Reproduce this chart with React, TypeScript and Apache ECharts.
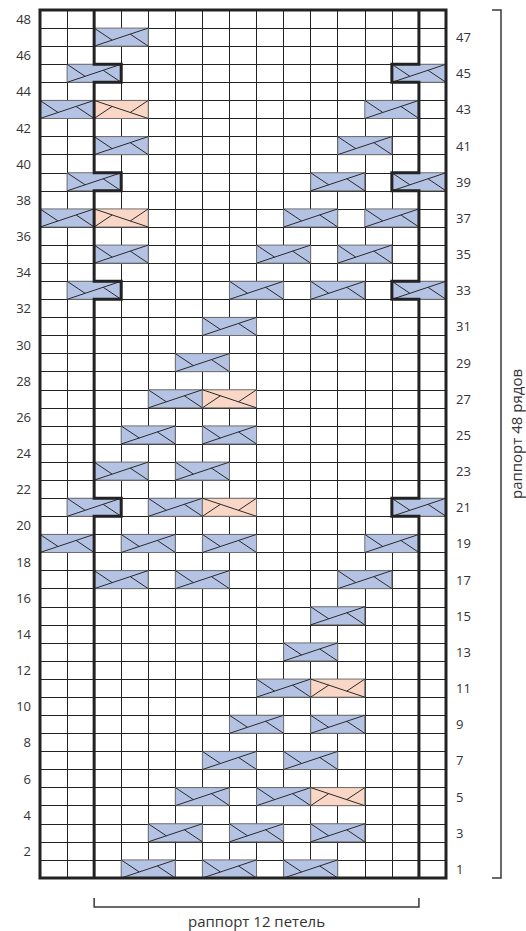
import { useEffect, useRef } from "react";
import * as echarts from "echarts";

// ---- chart data ----
const COLUMN_COUNT = 15; // stitches drawn across the chart
const ROW_COUNT = 48; // rows in the repeat
const REPEAT_FIRST_BOUNDARY = 2; // left thick line (column boundary index)
const REPEAT_LAST_BOUNDARY = 14; // right thick line (column boundary index)

const rowLabels = [
  "1", "2", "3", "4", "5", "6", "7", "8", "9", "10", "11", "12",
  "13", "14", "15", "16", "17", "18", "19", "20", "21", "22", "23", "24",
  "25", "26", "27", "28", "29", "30", "31", "32", "33", "34", "35", "36",
  "37", "38", "39", "40", "41", "42", "43", "44", "45", "46", "47", "48",
];

// [row, first column] of each 2-stitch blue cross (left over right)
const blueCables: [number, number][] = [
  [47, 2],
  [45, 1], [45, 13],
  [43, 0], [43, 12],
  [41, 2], [41, 11],
  [39, 1], [39, 10], [39, 13],
  [37, 0], [37, 9], [37, 12],
  [35, 2], [35, 8], [35, 11],
  [33, 1], [33, 7], [33, 10], [33, 13],
  [31, 6],
  [29, 5],
  [27, 4],
  [25, 3], [25, 6],
  [23, 2], [23, 5],
  [21, 1], [21, 4], [21, 13],
  [19, 0], [19, 3], [19, 6], [19, 12],
  [17, 2], [17, 5], [17, 11],
  [15, 10],
  [13, 9],
  [11, 8],
  [9, 7], [9, 10],
  [7, 6], [7, 9],
  [5, 5], [5, 8],
  [3, 4], [3, 7], [3, 10],
  [1, 3], [1, 6], [1, 9],
];

// [row, first column] of each 2-stitch peach cross (right over left)
const peachCables: [number, number][] = [
  [43, 2],
  [37, 2],
  [27, 6],
  [21, 6],
  [11, 10],
  [5, 10],
];

const rowsCaption = "раппорт 48 рядов";
const stitchesCaption = "раппорт 12 петель";

// ---- styles ----
const BLUE = "#b4c2e3";
const PEACH = "#f9d6c5";
const INK = "#222222";
const TEXT = "#333333";
const FONT = "'Open Sans', 'Noto Sans', sans-serif";

function renderCable(_params: any, api: any) {
  const col = api.value(0) as number;
  const row = api.value(1) as number;
  const kind = api.value(2) as number;
  const tl = api.coord([col, row]);
  const br = api.coord([col + 2, row - 1]);
  const x = tl[0];
  const y = tl[1];
  const w = br[0] - tl[0];
  const h = br[1] - tl[1];
  const segs =
    kind === 0
      ? [
          [x, y + h, x + w, y],
          [x, y, x + w / 3, y + (2 * h) / 3],
          [x + (2 * w) / 3, y + h / 3, x + w, y + h],
        ]
      : [
          [x, y, x + w, y + h],
          [x, y + h, x + w / 3, y + h / 3],
          [x + (2 * w) / 3, y + (2 * h) / 3, x + w, y],
        ];
  return {
    type: "group",
    children: [
      {
        type: "rect",
        shape: { x, y, width: w, height: h },
        style: { fill: kind === 0 ? BLUE : PEACH, stroke: "#6e6e6e", lineWidth: 1 },
      },
      ...segs.map((s) => ({
        type: "line",
        shape: { x1: s[0], y1: s[1], x2: s[2], y2: s[3] },
        style: { stroke: "#2a2a2a", lineWidth: 1 },
      })),
    ],
  };
}

function boundaryPoints(base: number, jogTo: number, jogRows: number[]) {
  const pts: number[][] = [[base, ROW_COUNT]];
  for (let r = ROW_COUNT; r >= 1; r--) {
    if (jogRows.includes(r)) {
      pts.push([base, r], [jogTo, r], [jogTo, r - 1], [base, r - 1]);
    }
  }
  pts.push([base, 0]);
  return pts;
}

function renderFrame(_params: any, api: any) {
  const leftJog = blueCables.filter((c) => c[1] === REPEAT_FIRST_BOUNDARY - 1).map((c) => c[0]);
  const rightJog = blueCables.filter((c) => c[1] === REPEAT_LAST_BOUNDARY - 1).map((c) => c[0]);
  const toPx = (pts: number[][]) => pts.map((p) => api.coord(p));
  const leftPts = toPx(boundaryPoints(REPEAT_FIRST_BOUNDARY, REPEAT_FIRST_BOUNDARY + 1, leftJog));
  const rightPts = toPx(boundaryPoints(REPEAT_LAST_BOUNDARY, REPEAT_LAST_BOUNDARY - 1, rightJog));
  const tl = api.coord([0, ROW_COUNT]);
  const br = api.coord([COLUMN_COUNT, 0]);
  const repL = api.coord([REPEAT_FIRST_BOUNDARY, 0])[0];
  const repR = api.coord([REPEAT_LAST_BOUNDARY, 0])[0];
  const thick = { stroke: INK, lineWidth: 3, fill: "none", lineJoin: "miter" };
  const thin = { stroke: "#3a3a3a", lineWidth: 1.5, fill: "none" };
  const bx = br[0] + 55;
  const by = br[1] + 29;
  return {
    type: "group",
    children: [
      { type: "polyline", shape: { points: leftPts }, style: thick },
      { type: "polyline", shape: { points: rightPts }, style: thick },
      {
        type: "rect",
        shape: { x: tl[0], y: tl[1], width: br[0] - tl[0], height: br[1] - tl[1] },
        style: thick,
      },
      {
        type: "polyline",
        shape: { points: [[bx - 9, tl[1]], [bx, tl[1]], [bx, br[1]], [bx - 9, br[1]]] },
        style: thin,
      },
      {
        type: "polyline",
        shape: { points: [[repL, by - 9], [repL, by], [repR, by], [repR, by - 9]] },
        style: thin,
      },
      {
        type: "text",
        x: (repL + repR) / 2,
        y: by + 14,
        style: {
          text: stitchesCaption,
          fill: TEXT,
          font: `15px ${FONT}`,
          align: "center",
          verticalAlign: "middle",
          textAlign: "center",
          textVerticalAlign: "middle",
        },
      },
      {
        type: "text",
        x: bx + 15,
        y: (tl[1] + br[1]) / 2 - 10,
        rotation: Math.PI / 2,
        style: {
          text: rowsCaption,
          fill: TEXT,
          font: `15px ${FONT}`,
          align: "center",
          verticalAlign: "middle",
          textAlign: "center",
          textVerticalAlign: "middle",
        },
      },
    ],
  };
}

export default function App() {
  const ref = useRef<HTMLDivElement>(null);

  useEffect(() => {
    if (!ref.current) return;
    const chart = echarts.init(ref.current, undefined, { renderer: "svg" });
    const cableData = [
      ...blueCables.map(([r, c]) => [c, r, 0]),
      ...peachCables.map(([r, c]) => [c, r, 1]),
    ];
    const hiddenAxisParts = {
      axisLine: { show: false },
      axisTick: { show: false },
    };
    chart.setOption({
      animation: false,
      backgroundColor: "#ffffff",
      grid: { left: 40, right: 80, top: 10, bottom: 53 },
      xAxis: {
        type: "value",
        min: 0,
        max: COLUMN_COUNT,
        interval: 1,
        ...hiddenAxisParts,
        axisLabel: { show: false },
        splitLine: { show: true, lineStyle: { color: INK, width: 1 } },
      },
      yAxis: [
        {
          type: "value",
          min: 0,
          max: ROW_COUNT,
          interval: 1,
          ...hiddenAxisParts,
          axisLabel: { show: false },
          splitLine: { show: true, lineStyle: { color: INK, width: 1 } },
        },
        {
          type: "category",
          position: "left",
          data: rowLabels,
          ...hiddenAxisParts,
          splitLine: { show: false },
          axisLabel: {
            interval: (i: number) => i % 2 === 1,
            margin: 9,
            color: TEXT,
            fontSize: 13,
            fontFamily: FONT,
          },
        },
        {
          type: "category",
          position: "right",
          data: rowLabels,
          ...hiddenAxisParts,
          splitLine: { show: false },
          axisLabel: {
            interval: (i: number) => i % 2 === 0,
            margin: 10,
            color: TEXT,
            fontSize: 13,
            fontFamily: FONT,
          },
        },
      ],
      series: [
        {
          type: "custom",
          xAxisIndex: 0,
          yAxisIndex: 0,
          z: 2,
          data: cableData,
          encode: { x: 0, y: 1 },
          renderItem: renderCable,
        },
        {
          type: "custom",
          xAxisIndex: 0,
          yAxisIndex: 0,
          z: 3,
          clip: false,
          data: [[0, 0]],
          encode: { x: 0, y: 1 },
          renderItem: renderFrame,
        },
      ],
    });
    return () => chart.dispose();
  }, []);

  return (
    <div
      ref={ref}
      style={{ position: "fixed", left: 0, top: 0, width: 526, height: 931 }}
    />
  );
}
